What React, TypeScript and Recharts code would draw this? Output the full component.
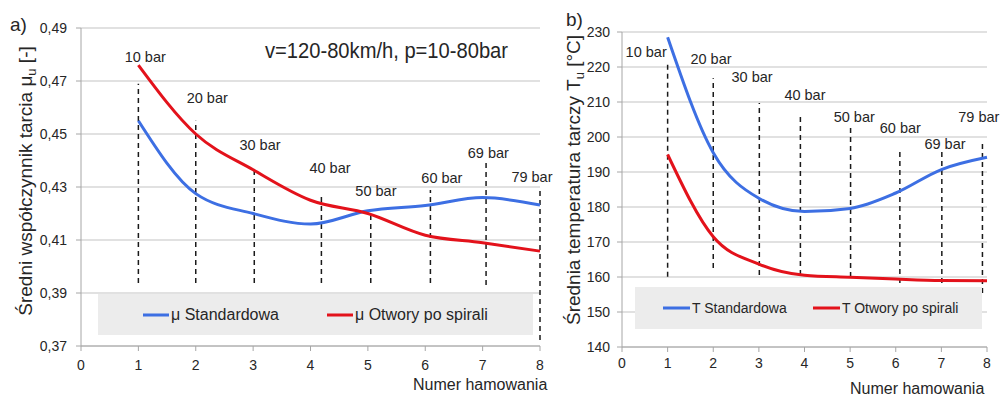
import React from "react";
import {
  CartesianGrid,
  ComposedChart,
  Line,
  ReferenceLine,
  Scatter,
  XAxis,
  YAxis,
} from "recharts";

const FONT = "'Liberation Sans', Arial, sans-serif";
const BLUE = "#3d6fe3";
const RED = "#e3121b";
const GRID = "#c4c4c4";
const AXIS = "#a6a6a6";
const INK = "#262626";

// braking number (x axis)
const brakings = [1, 2, 3, 4, 5, 6, 7, 8];
const xTicks = [0, 1, 2, 3, 4, 5, 6, 7, 8];

// a) mean friction coefficient
const muStandard = [0.455, 0.4275, 0.42, 0.416, 0.421, 0.423, 0.426, 0.4232];
const muSpiral = [0.476, 0.45, 0.4365, 0.425, 0.42, 0.4118, 0.409, 0.4058];
const muTicks = [0.37, 0.39, 0.41, 0.43, 0.45, 0.47, 0.49];

// b) mean disc temperature
const tStandard = [228.5, 195.5, 182.5, 178.7, 179.6, 184, 190.7, 194.2];
const tSpiral = [195, 171.5, 163.7, 160.5, 159.9, 159.4, 159, 158.9];
const tTicks = [140, 150, 160, 170, 180, 190, 200, 210, 220, 230];

// pressure annotations (dashed markers + labels)
const pressures = ["10 bar", "20 bar", "30 bar", "40 bar", "50 bar", "60 bar", "69 bar", "79 bar"];

const muMarkX = [1, 2, 3.02, 4.19, 5.05, 6.09, 7.06, 8];
const muMarkTop = [0.469, 0.455, 0.437, 0.427, 0.4202, 0.4289, 0.4394, 0.4296];
const muMarkBottom = [0.3938, 0.3938, 0.3938, 0.3938, 0.3938, 0.3938, 0.393, 0.3723];
const muLabelX = [1.12, 2.2, 3.12, 4.34, 5.14, 6.29, 7.1, 7.86];
const muLabelY = [0.4791, 0.4636, 0.4458, 0.4373, 0.4285, 0.4334, 0.4428, 0.4338];

const tMarkX = [1, 2, 3.01, 3.91, 5.01, 6.09, 7.01, 7.9];
const tMarkTop = [221.5, 216.8, 209.7, 206.8, 202.9, 195.7, 195.7, 198.6];
const tMarkBottom = [160.1, 162.6, 160.6, 160.6, 160, 158.3, 158.3, 155.4];
const tLabelX = [0.53, 1.95, 2.85, 4.01, 5.09, 6.1, 7.08, 7.82];
const tLabelY = [224.3, 222.3, 217.1, 212, 205.7, 202.6, 198, 205.7];

const muData = brakings.map((x, i) => ({ x, std: muStandard[i], spi: muSpiral[i] }));
const tData = brakings.map((x, i) => ({ x, std: tStandard[i], spi: tSpiral[i] }));
const muLabels = pressures.map((label, i) => ({ x: muLabelX[i], y: muLabelY[i], label }));
const tLabels = pressures.map((label, i) => ({ x: tLabelX[i], y: tLabelY[i], label }));

const comma = (v: number) => v.toFixed(2).replace(".", ",");

const PressureLabel = (props: any) => {
  const { cx, cy, payload } = props;
  return (
    <text x={cx} y={cy} textAnchor="middle" dominantBaseline="central" fontSize={14.5} fill={INK} fontFamily={FONT}>
      {payload.label}
    </text>
  );
};

function Panel(props: {
  data: any[];
  labels: any[];
  markX: number[];
  markTop: number[];
  markBottom: number[];
  domain: [number, number];
  yTicks: number[];
  fmt?: (v: number) => string;
  width: number;
  margin: any;
  yWidth: number;
  yTickMargin: number;
  xTickMargin: number;
}) {
  const tick = { fontSize: 14, fill: INK, fontFamily: FONT };
  return (
    <ComposedChart width={props.width} height={396} data={props.data} margin={props.margin}>
      <CartesianGrid vertical={false} stroke={GRID} strokeWidth={1.2} />
      <XAxis
        dataKey="x"
        type="number"
        domain={[0, 8]}
        ticks={xTicks}
        height={30}
        tick={tick}
        tickSize={5}
        tickMargin={props.xTickMargin}
        stroke={AXIS}
        interval={0}
      />
      <YAxis
        type="number"
        domain={props.domain}
        ticks={props.yTicks}
        width={props.yWidth}
        tick={tick}
        tickSize={5}
        tickMargin={props.yTickMargin}
        tickFormatter={props.fmt}
        stroke={AXIS}
        interval={0}
      />
      {props.markX.map((x, i) => (
        <ReferenceLine
          key={i}
          segment={[
            { x, y: props.markBottom[i] },
            { x, y: props.markTop[i] },
          ]}
          stroke="#1a1a1a"
          strokeWidth={1.5}
          strokeDasharray="5 4"
          ifOverflow="visible"
        />
      ))}
      <Line dataKey="std" type="monotone" stroke={BLUE} strokeWidth={3} dot={false} isAnimationActive={false} />
      <Line dataKey="spi" type="monotone" stroke={RED} strokeWidth={3} dot={false} isAnimationActive={false} />
      <Scatter data={props.labels} dataKey="y" shape={PressureLabel} isAnimationActive={false} />
    </ComposedChart>
  );
}

const legendA = [
  { name: "μ Standardowa", color: BLUE, x: 143 },
  { name: "μ Otwory po spirali", color: RED, x: 327 },
];
const legendB = [
  { name: "T Standardowa", color: BLUE, x: 663 },
  { name: "T Otwory po spirali", color: RED, x: 813 },
];

export default function App() {
  return (
    <div style={{ position: "absolute", left: 0, top: 0, width: 1001, height: 396, background: "#fff", fontFamily: FONT }}>
      <div style={{ position: "absolute", left: 0, top: 0 }}>
        <Panel
          data={muData}
          labels={muLabels}
          markX={muMarkX}
          markTop={muMarkTop}
          markBottom={muMarkBottom}
          domain={[0.37, 0.49]}
          yTicks={muTicks}
          fmt={comma}
          width={560}
          margin={{ top: 28, right: 20, bottom: 20, left: 0 }}
          yWidth={81}
          yTickMargin={9}
          xTickMargin={9}
        />
      </div>
      <div style={{ position: "absolute", left: 545, top: 0 }}>
        <Panel
          data={tData}
          labels={tLabels}
          markX={tMarkX}
          markTop={tMarkTop}
          markBottom={tMarkBottom}
          domain={[140, 230]}
          yTicks={tTicks}
          width={456}
          margin={{ top: 32, right: 14, bottom: 19, left: 0 }}
          yWidth={77}
          yTickMargin={7}
          xTickMargin={6}
        />
      </div>
      <svg width={1001} height={396} style={{ position: "absolute", left: 0, top: 0, pointerEvents: "none" }} fontFamily={FONT}>
        <text x={10} y={31} fontSize={19} fill={INK}>a)</text>
        <text x={566} y={26} fontSize={19} fill={INK}>b)</text>
        <text x={265} y={58} fontSize={22} fill={INK} textLength={243} lengthAdjust="spacingAndGlyphs">
          v=120-80km/h, p=10-80bar
        </text>

        <text transform="translate(32,181) rotate(-90)" textAnchor="middle" fontSize={19} fill={INK}>
          Średni współczynnik tarcia μ<tspan fontSize={13} dy={4}>u</tspan>
          <tspan dy={-4}> [-]</tspan>
        </text>
        <text transform="translate(580,180) rotate(-90)" textAnchor="middle" fontSize={19} fill={INK}>
          Średnia temperatura tarczy T<tspan fontSize={13} dy={4}>u</tspan>
          <tspan dy={-4}> [°C]</tspan>
        </text>

        <text x={413} y={390} fontSize={16} fill={INK}>Numer hamowania</text>
        <text x={850} y={394} fontSize={16} fill={INK}>Numer hamowania</text>

        <rect x={98} y={294} width={435} height={41} fill="#ececec" />
        {legendA.map((it) => (
          <g key={it.name}>
            <line x1={it.x} x2={it.x + 26} y1={315} y2={315} stroke={it.color} strokeWidth={3} />
            <text x={it.x + 28} y={320} fontSize={16} fill={INK}>{it.name}</text>
          </g>
        ))}

        <rect x={635} y={287} width={347} height={42} fill="#ececec" />
        {legendB.map((it) => (
          <g key={it.name}>
            <line x1={it.x} x2={it.x + 27} y1={308} y2={308} stroke={it.color} strokeWidth={3} />
            <text x={it.x + 29} y={313} fontSize={14} fill={INK}>{it.name}</text>
          </g>
        ))}
      </svg>
    </div>
  );
}
